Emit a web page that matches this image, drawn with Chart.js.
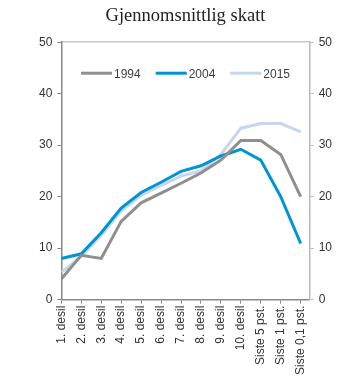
<!DOCTYPE html>
<html>
<head>
<meta charset="utf-8">
<script src="https://cdn.jsdelivr.net/npm/chart.js@4"></script>
<style>
  html, body { margin: 0; padding: 0; background: #fff; }
  #wrap { width: 353px; height: 381px; }
</style>
</head>
<body>
<div id="wrap"><canvas id="chart" width="353" height="381"></canvas></div>
<script>
// Categories (x axis)
const CATEGORIES = ['1. desil', '2. desil', '3. desil', '4. desil', '5. desil', '6. desil',
    '7. desil', '8. desil', '9. desil', '10. desil', 'Siste 5 pst.', 'Siste 1 pst.', 'Siste 0,1 pst.'];

// Series values (per cent)
const VALUES_1994 = [4, 8.6, 8, 15.2, 18.8, 20.7, 22.6, 24.6, 27.1, 30.9, 30.9, 28.2, 20];
const VALUES_2004 = [8, 8.9, 13, 17.8, 20.8, 22.8, 24.9, 26, 27.9, 29.2, 27.1, 20, 10.9];
const VALUES_2015 = [5.3, 8.4, 12.5, 17.2, 20.3, 22.2, 24, 25, 28.2, 33.3, 34.2, 34.2, 32.6];

// Y tick labels
const Y_TICKS = [0, 10, 20, 30, 40, 50];

const FONT = 'Liberation Sans, Arial, sans-serif';

function toPoints(values) {
    return values.map((v, i) => ({ x: i, y: v }));
}

function makeDataset(label, values, color) {
    return {
        label: label,
        data: toPoints(values),
        borderColor: color,
        backgroundColor: color,
        borderWidth: 3,
        pointRadius: 0,
        tension: 0,
        yAxisID: 'y'
    };
}

// Legend drawn inside the plot area, in one row
const inlineLegend = {
    id: 'inlineLegend',
    afterDatasetsDraw(chart) {
        const { ctx, chartArea } = chart;
        const lineLen = 31, gap = 2, itemGap = 15, y = chartArea.top + 31;
        ctx.save();
        ctx.font = '12px ' + FONT;
        const items = chart.data.datasets.map(ds => ({
            ds, w: lineLen + gap + ctx.measureText(ds.label).width
        }));
        const total = items.reduce((s, it) => s + it.w, 0) + itemGap * (items.length - 1);
        let x = (chartArea.left + chartArea.right) / 2 - total / 2;
        items.forEach(it => {
            ctx.strokeStyle = it.ds.borderColor;
            ctx.lineWidth = 3;
            ctx.beginPath();
            ctx.moveTo(x, y);
            ctx.lineTo(x + lineLen, y);
            ctx.stroke();
            ctx.fillStyle = '#404040';
            ctx.textBaseline = 'middle';
            ctx.fillText(it.ds.label, x + lineLen + gap, y + 1);
            x += it.w + itemGap;
        });
        ctx.restore();
    }
};

const yAxis = (position, borderColor) => ({
    type: 'linear',
    position: position,
    min: Y_TICKS[0],
    max: Y_TICKS[Y_TICKS.length - 1],
    afterBuildTicks: scale => { scale.ticks = Y_TICKS.map(v => ({ value: v })); },
    border: { display: true, color: borderColor, width: 1.5 },
    grid: { display: true, drawOnChartArea: false, drawTicks: true, tickLength: 4, color: borderColor, lineWidth: 1 },
    ticks: { color: '#333', font: { family: FONT, size: 12 }, padding: 5 }
});

const ctx = document.getElementById('chart').getContext('2d');
new Chart(ctx, {
    type: 'line',
    data: {
        datasets: [
            makeDataset('1994', VALUES_1994, '#8f8f8f'),
            makeDataset('2004', VALUES_2004, '#0094d4'),
            makeDataset('2015', VALUES_2015, '#c6d6ef')
        ]
    },
    options: {
        responsive: false,
        animation: false,
        layout: { padding: { left: 34, right: 16, top: 0, bottom: 4 } },
        scales: {
            x: {
                type: 'linear',
                min: 0,
                max: 12.45,
                afterBuildTicks: scale => { scale.ticks = CATEGORIES.map((_, i) => ({ value: i })); },
                border: { display: true, color: '#888', width: 1.5 },
                grid: { display: true, drawOnChartArea: false, drawTicks: true, tickLength: 4, color: '#888' },
                ticks: {
                    autoSkip: false,
                    maxRotation: 90,
                    minRotation: 90,
                    padding: 2,
                    color: '#333',
                    font: { family: FONT, size: 12 },
                    callback: value => CATEGORIES[value]
                }
            },
            xTop: {
                type: 'linear',
                position: 'top',
                min: 0,
                max: 12.45,
                border: { display: true, color: '#c8c8c8', width: 1.5 },
                grid: { display: false },
                ticks: { display: false }
            },
            y: yAxis('left', '#888'),
            y2: yAxis('right', '#bbb')
        },
        plugins: {
            title: {
                display: true,
                text: 'Gjennomsnittlig skatt',
                color: '#222',
                font: { family: 'Liberation Serif, Times New Roman, serif', size: 18.5, weight: 'normal' },
                padding: { top: 5, bottom: 7 }
            },
            legend: { display: false },
            tooltip: { enabled: false }
        }
    },
    plugins: [inlineLegend]
});
</script>
</body>
</html>
